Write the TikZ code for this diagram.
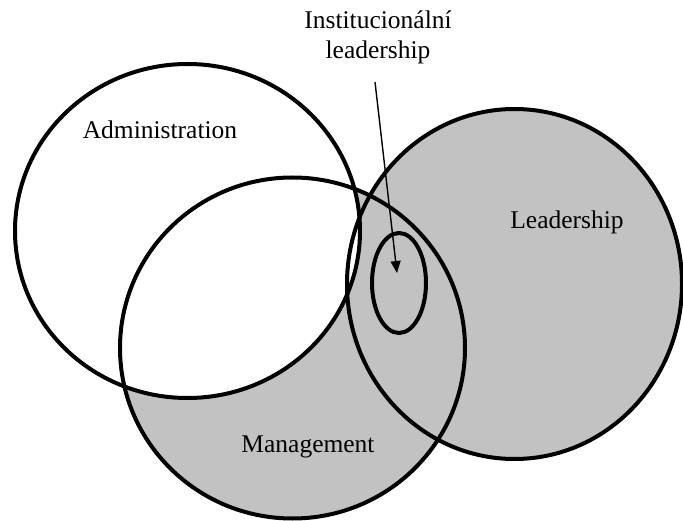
\documentclass[tikz,border=0pt]{standalone}
\usepackage{fontspec}
\setmainfont{Liberation Serif}
\usetikzlibrary{arrows.meta}
\begin{document}
\begin{tikzpicture}[x=1pt,y=-1pt,
  ring/.style={line width=4pt},
  lbl/.style={font=\fontsize{25.5}{30}\selectfont, inner sep=0pt},
  shade/.style={fill=black!24}]
\useasboundingbox (0,0) rectangle (683,521);
% shaded regions: Management and Leadership, with Administration laid white on top
\fill[shade] (292.5,348) ellipse [x radius=172.5, y radius=170.5];
\fill[shade] (514.5,284) ellipse [x radius=167.5, y radius=175];
\fill[white] (187.5,231) ellipse [x radius=172.5, y radius=167];
% outlines
\draw[ring] (187.5,231) ellipse [x radius=172.5, y radius=167];
\draw[ring] (292.5,348) ellipse [x radius=172.5, y radius=170.5];
\draw[ring] (514.5,284) ellipse [x radius=167.5, y radius=175];
\draw[ring] (399,283) ellipse [x radius=27, y radius=50];
% labels
\node[lbl] (adm) at (160,130) {Administration};
\node[lbl] (lead) at (567,222) {Leadership};
\node[lbl] (mgmt) at (308,447) {Management};
\node[lbl, align=center] (inst) at (378,37) {Institucionální\\leadership};
\coordinate (tip) at (397,273);
\draw[line width=1.4pt, -{Triangle[length=12pt,width=10pt]}] (375,82) -- (tip);
\end{tikzpicture}
\end{document}
